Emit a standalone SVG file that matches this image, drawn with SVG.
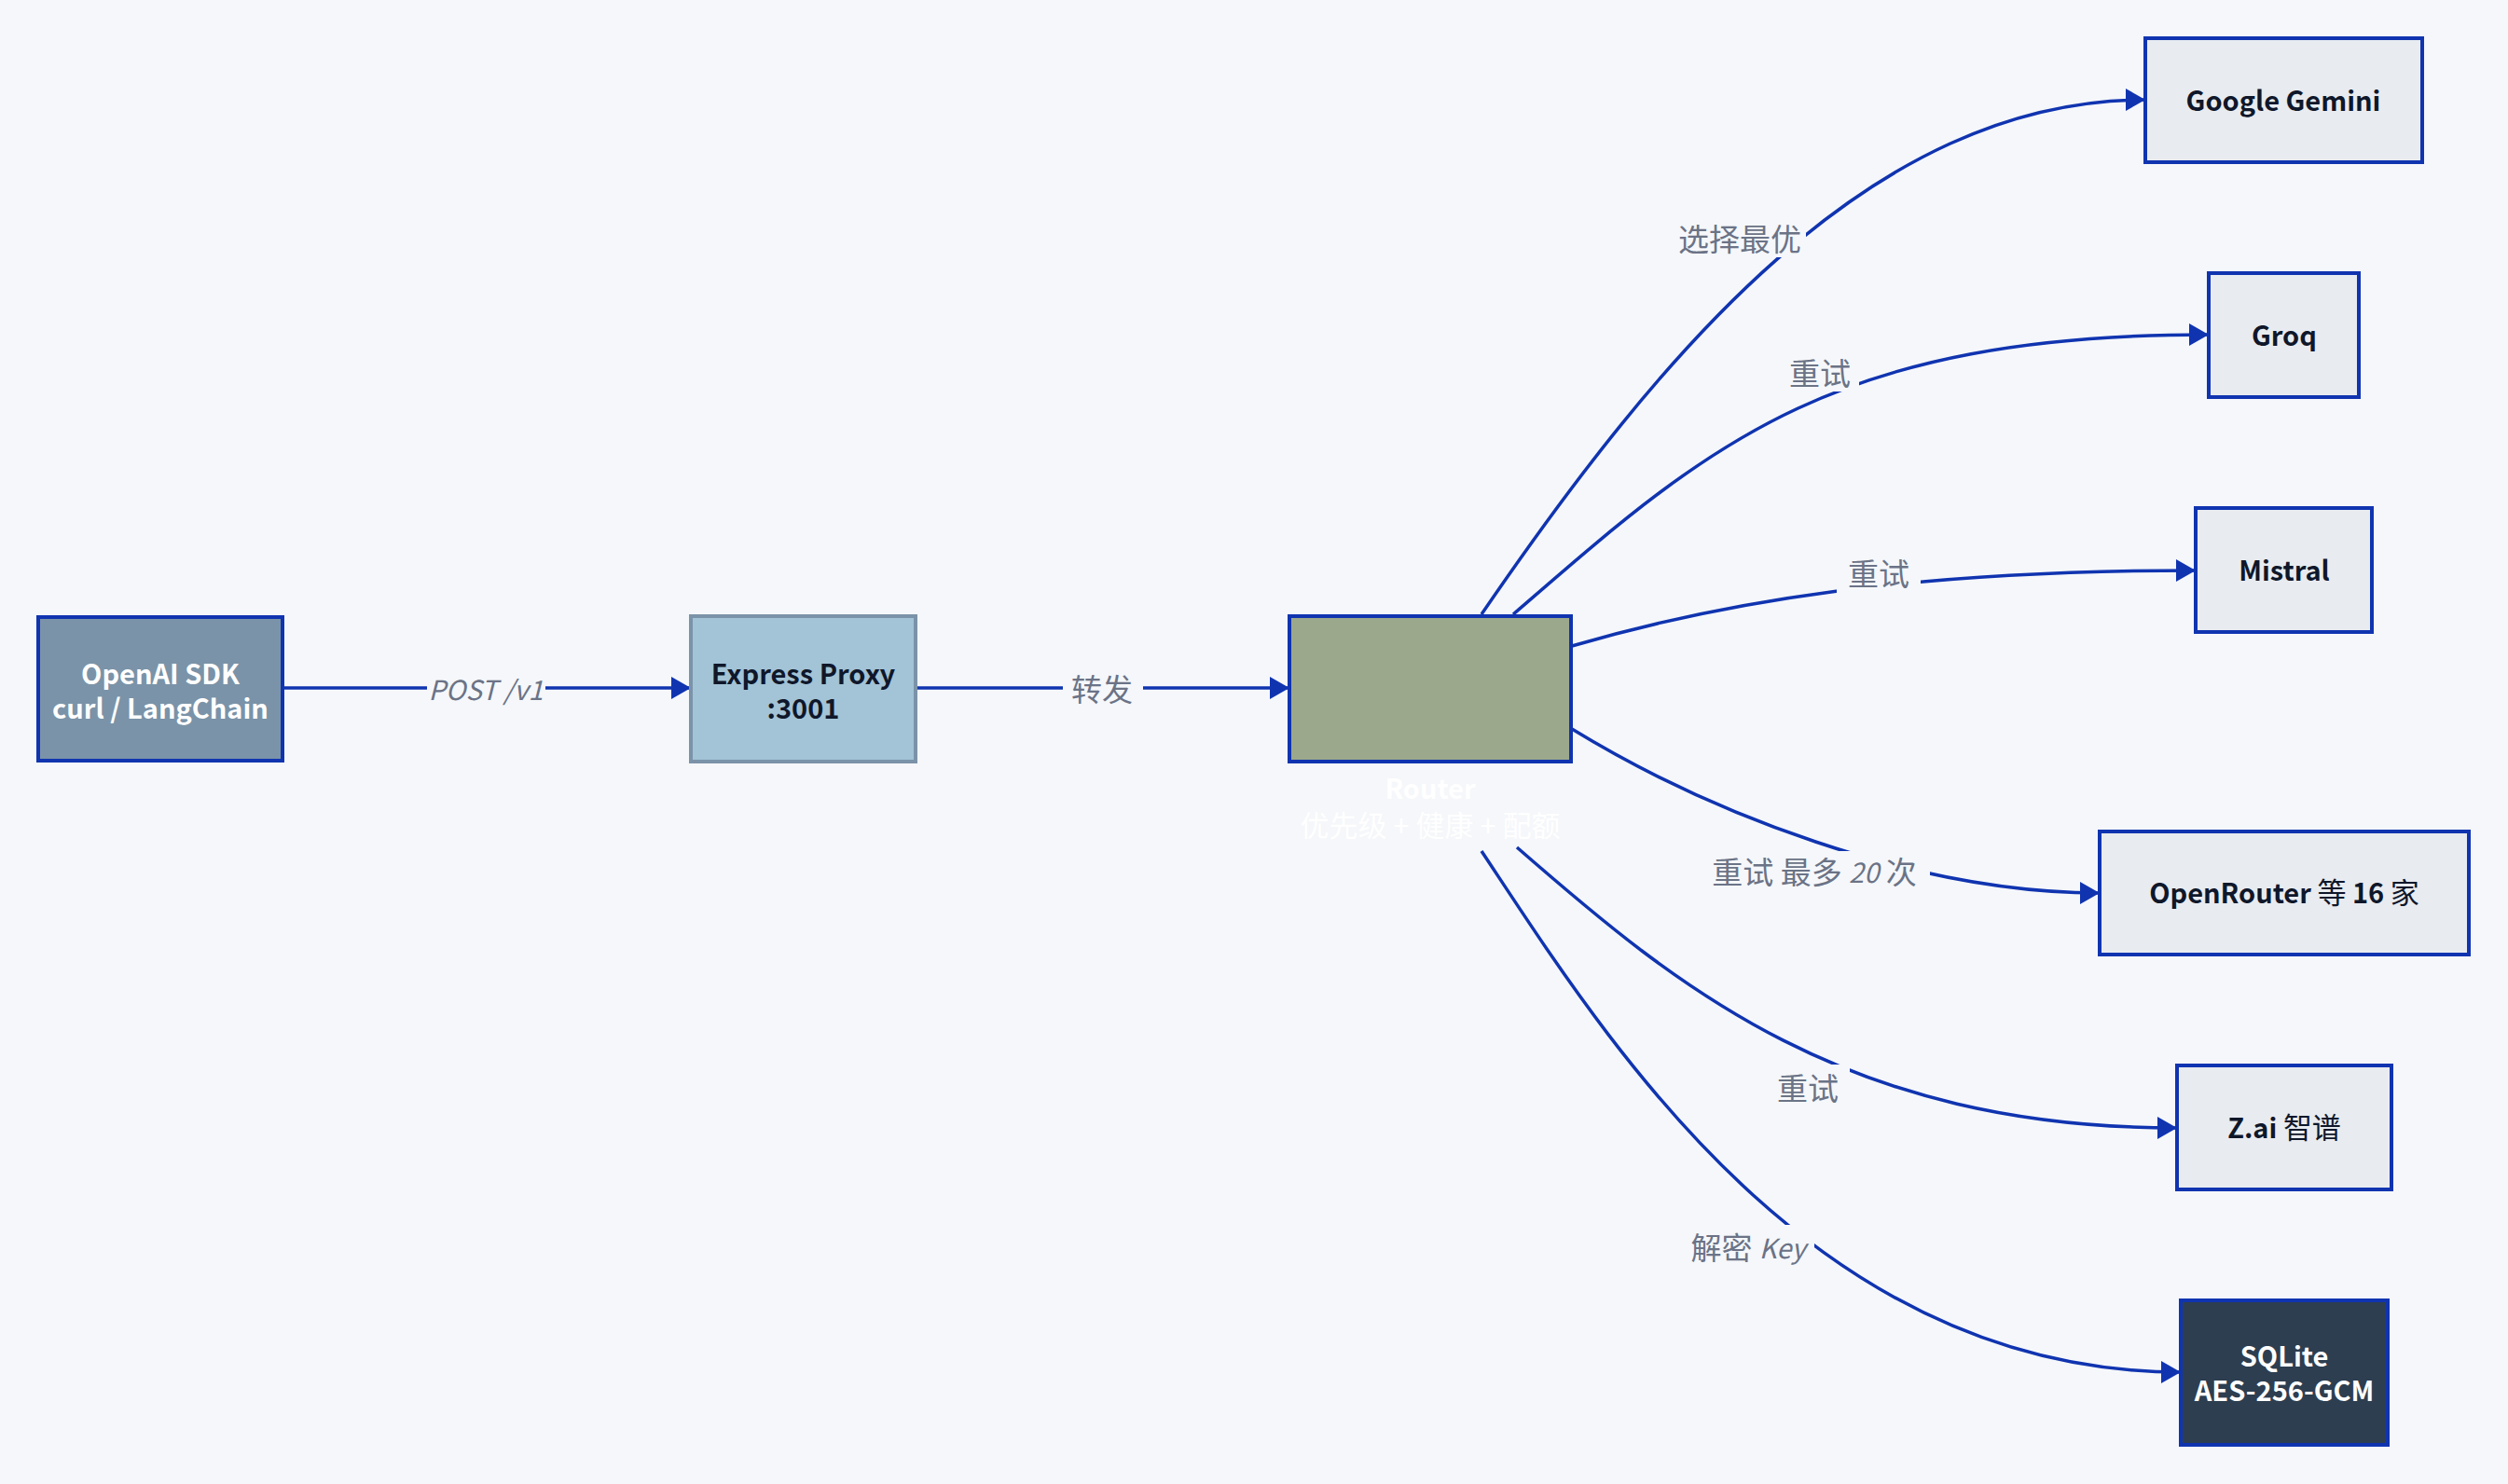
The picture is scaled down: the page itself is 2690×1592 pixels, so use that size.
<svg xmlns="http://www.w3.org/2000/svg" width="2690" height="1592" viewBox="0 0 2690 1592">
<defs>
<style>
.bg{fill:#f5f7fa}
.node{stroke:#1034b0;stroke-width:4}
.prov{fill:#e8ebf0}
.nt{font-family:"Noto Sans CJK SC","Noto Sans",sans-serif;font-size:29px;font-weight:700;text-anchor:middle;fill:#0f172a}
.cj{font-weight:400;font-size:31px}
.w{fill:#ffffff}
.edge{fill:none;stroke:#1034b0;stroke-width:3.5}
.lbg{fill:#f5f7fa}
.lt{font-family:"Noto Sans CJK SC","Noto Sans",sans-serif;font-size:33px;fill:#6b7386;text-anchor:middle;dominant-baseline:central}
.it{font-style:italic;font-size:29px}
</style>
<marker id="arr" markerUnits="userSpaceOnUse" markerWidth="23" markerHeight="25" refX="21" refY="12" orient="auto">
<path d="M0,0 L21,12 L0,24 Z" fill="#1034b0"/>
</marker>
</defs>
<rect class="bg" x="0" y="0" width="2690" height="1592"/>

<g id="connectors">
<path class="edge" d="M303,738 L741,738" marker-end="url(#arr)"/>
<path class="edge" d="M982,738 L1383,738" marker-end="url(#arr)"/>
<path class="edge" d="M1589,659 C1780,380 2005,107 2301,107" marker-end="url(#arr)"/>
<path class="edge" d="M1623,659 C1830,480 1960,359 2369,359" marker-end="url(#arr)"/>
<path class="edge" d="M1686,693 C1850,645 2050,612 2355,612" marker-end="url(#arr)"/>
<path class="edge" d="M1686,782 C1830,870 2050,958 2252,958" marker-end="url(#arr)"/>
<path class="edge" d="M1627,909 C1800,1060 1980,1210 2335,1210" marker-end="url(#arr)"/>
<path class="edge" d="M1589,913 C1720,1110 1940,1472 2339,1472" marker-end="url(#arr)"/>

<rect class="lbg" x="458" y="718" width="127" height="40"/>
<text class="lt" x="521" y="738"><tspan class="it">POST /v1</tspan></text>
<rect class="lbg" x="1140" y="718" width="86" height="40"/>
<text class="lt" x="1182" y="738">转发</text>
<rect class="lbg" x="1796" y="234" width="141" height="42"/>
<text class="lt" x="1866" y="255">选择最优</text>
<rect class="lbg" x="1912" y="378" width="82" height="42"/>
<text class="lt" x="1952" y="399">重试</text>
<rect class="lbg" x="1970" y="592" width="90" height="44"/>
<text class="lt" x="2015" y="614">重试</text>
<rect class="lbg" x="1826" y="913" width="244" height="42"/>
<text class="lt" x="1946" y="934">重试 最多 <tspan class="it">20</tspan> 次</text>
<rect class="lbg" x="1894" y="1142" width="90" height="46"/>
<text class="lt" x="1939" y="1166">重试</text>
<rect class="lbg" x="1806" y="1314" width="140" height="46"/>
<text class="lt" x="1875" y="1337">解密 <tspan class="it">Key</tspan></text>
</g>

<g id="client">
<rect class="node" x="41" y="662" width="262" height="154" fill="#7a93a8"/>
<text class="nt w" x="172" y="734">OpenAI SDK</text>
<text class="nt w" x="172" y="771">curl / LangChain</text>
</g>

<g id="proxy">
<rect x="741" y="661" width="241" height="156" fill="#a3c3d6" stroke="#7b93a8" stroke-width="4"/>
<text class="nt" x="861.5" y="734">Express Proxy</text>
<text class="nt" x="861.5" y="771">:3001</text>
</g>

<g id="router">
<rect class="node" x="1383" y="661" width="302" height="156" fill="#9ba88b"/>
<text class="nt w" x="1534" y="857">Router</text>
<text class="nt w cj" x="1534" y="897">优先级 + 健康 + 配额</text>
</g>

<g id="gemini">
<rect class="node prov" x="2301" y="41" width="297" height="133"/>
<text class="nt" x="2449" y="119">Google Gemini</text>
</g>

<g id="groq">
<rect class="node prov" x="2369" y="293" width="161" height="133"/>
<text class="nt" x="2450" y="371">Groq</text>
</g>

<g id="mistral">
<rect class="node prov" x="2355" y="545" width="189" height="133"/>
<text class="nt" x="2450" y="623">Mistral</text>
</g>

<g id="openrouter">
<rect class="node prov" x="2252" y="892" width="396" height="132"/>
<text class="nt" x="2450" y="969">OpenRouter <tspan class="cj">等</tspan> 16 <tspan class="cj">家</tspan></text>
</g>

<g id="zai">
<rect class="node prov" x="2335" y="1143" width="230" height="133"/>
<text class="nt" x="2450" y="1221">Z.ai <tspan class="cj">智谱</tspan></text>
</g>

<g id="sqlite">
<rect class="node" x="2339" y="1395" width="222" height="155" fill="#2d3e50"/>
<text class="nt w" x="2450" y="1466">SQLite</text>
<text class="nt w" x="2450" y="1503">AES-256-GCM</text>
</g>
</svg>
